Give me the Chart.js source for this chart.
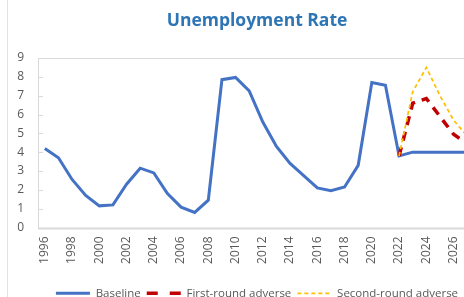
<!DOCTYPE html>
<html>
<head>
<meta charset="UTF-8">
<title>Unemployment Rate</title>
<script src="https://cdn.jsdelivr.net/npm/chart.js"></script>
<style>
  html, body { margin: 0; padding: 0; background: #fff; overflow: hidden; }
  #edge { position: absolute; left: 7px; top: 0; width: 1px; height: 297px; background: #e3e3e3; }
  #wrap { position: absolute; left: 8px; top: 0; width: 498px; height: 297px; }
</style>
</head>
<body>
<div id="edge"></div>
<div id="wrap"><canvas id="chart"></canvas></div>
<script>
// years on the category axis
const years = ['1996','1997','1998','1999','2000','2001','2002','2003','2004','2005',
  '2006','2007','2008','2009','2010','2011','2012','2013','2014','2015',
  '2016','2017','2018','2019','2020','2021','2022','2023','2024','2025','2026','2027'];

// unemployment rate, %
const baseline = [4.2, 3.7, 2.55, 1.7, 1.15, 1.2, 2.3, 3.15, 2.9, 1.8,
  1.08, 0.8, 1.45, 7.85, 7.97, 7.25, 5.6, 4.3, 3.4, 2.75,
  2.1, 1.95, 2.15, 3.3, 7.7, 7.55, 3.8, 4.0, 4.0, 4.0, 4.0, 4.0];
const firstRound = [null, null, null, null, null, null, null, null, null, null,
  null, null, null, null, null, null, null, null, null, null,
  null, null, null, null, null, null, 3.8, 6.6, 6.85, 5.9, 4.95, 4.45];
const secondRound = [null, null, null, null, null, null, null, null, null, null,
  null, null, null, null, null, null, null, null, null, null,
  null, null, null, null, null, null, 3.8, 7.2, 8.5, 7.0, 5.7, 4.85];

const yTicks = [0, 1, 2, 3, 4, 5, 6, 7, 8, 9];

const FONT = 'Open Sans';
const GREY = '#595959';
const RIGHT_PAD = 32;   // plot runs past the picture's right edge

// plot frame + small inside ticks on the value axis
const plotFrame = {
  id: 'plotFrame',
  afterLayout(chart) {
    // title and legend are centred on the whole chart, not on the padded part
    const half = RIGHT_PAD / 2;
    [chart.titleBlock, chart.legend].forEach(b => {
      if (b) { b.left += half; b.right += half; }
    });
  },
  beforeDatasetsDraw(chart) {
    const {ctx, chartArea: a, scales: {y}} = chart;
    ctx.save();
    ctx.strokeStyle = '#d9d9d9';
    ctx.lineWidth = 1;
    ctx.strokeRect(Math.round(a.left) + 0.5, Math.round(a.top) + 0.5,
      Math.round(a.right - a.left), Math.round(a.bottom - a.top));
    ctx.beginPath();
    yTicks.forEach(v => {
      if (v === 0 || v === 9) return;
      const py = Math.round(y.getPixelForValue(v)) + 0.5;
      ctx.moveTo(a.left, py);
      ctx.lineTo(a.left + 5, py);
    });
    ctx.stroke();
    ctx.lineWidth = 2;
    ctx.beginPath();
    ctx.moveTo(a.left, Math.round(a.bottom) + 0.5);
    ctx.lineTo(a.right, Math.round(a.bottom) + 0.5);
    ctx.stroke();
    ctx.restore();
  }
};

new Chart(document.getElementById('chart'), {
  type: 'line',
  data: {
    labels: years,
    datasets: [
      {
        label: 'Baseline',
        data: baseline,
        borderColor: '#4472C4',
        backgroundColor: '#4472C4',
        borderWidth: 3,
        pointRadius: 0,
        order: 2
      },
      {
        label: 'First-round adverse',
        data: firstRound,
        borderColor: '#C00000',
        backgroundColor: '#C00000',
        borderWidth: 3.5,
        borderDash: [9, 7],
        pointRadius: 0,
        order: 1
      },
      {
        label: 'Second-round adverse',
        data: secondRound,
        borderColor: '#FFC000',
        backgroundColor: '#FFC000',
        borderWidth: 1.75,
        borderDash: [4, 3],
        pointRadius: 0,
        order: 0
      }
    ]
  },
  options: {
    responsive: true,
    maintainAspectRatio: false,
    animation: false,
    layout: { padding: { left: 0, right: RIGHT_PAD, top: 0, bottom: -12 } },
    plugins: {
      title: {
        display: true,
        text: 'Unemployment Rate',
        color: '#2E75B6',
        font: { family: FONT, size: 17.5, weight: 'bold' },
        padding: { top: 11, bottom: 26 }
      },
      legend: {
        position: 'bottom',
        labels: {
          usePointStyle: true,
          pointStyle: 'line',
          pointStyleWidth: 34,
          padding: 6,
          color: GREY,
          font: { family: FONT, size: 11.5 },
          sort: (a, b) => a.datasetIndex - b.datasetIndex,
          generateLabels: chart => Chart.defaults.plugins.legend.labels.generateLabels(chart).map(item => {
            const ds = chart.data.datasets[item.datasetIndex];
            item.strokeStyle = ds.borderColor;
            item.lineWidth = ds.borderWidth;
            item.lineDash = item.datasetIndex === 1 ? [11, 12] : (ds.borderDash || []);
            return item;
          })
        }
      },
      tooltip: { enabled: false }
    },
    scales: {
      x: {
        offset: true,
        grid: { display: false, drawTicks: false },
        border: { display: false },
        ticks: {
          autoSkip: false,
          minRotation: 90,
          maxRotation: 90,
          padding: 9,
          color: GREY,
          font: { family: FONT, size: 12 },
          callback: (v, i) => (i % 2 === 0 ? years[i] : '')
        },
        afterFit: s => { s.height = 54; }
      },
      y: {
        min: 0,
        max: 9,
        grid: { display: false, drawTicks: false },
        border: { display: false },
        ticks: {
          stepSize: 1,
          padding: 14,
          color: GREY,
          font: { family: FONT, size: 12 }
        },
        afterFit: s => { s.width = 30; }
      }
    }
  },
  plugins: [plotFrame]
});
</script>
</body>
</html>
